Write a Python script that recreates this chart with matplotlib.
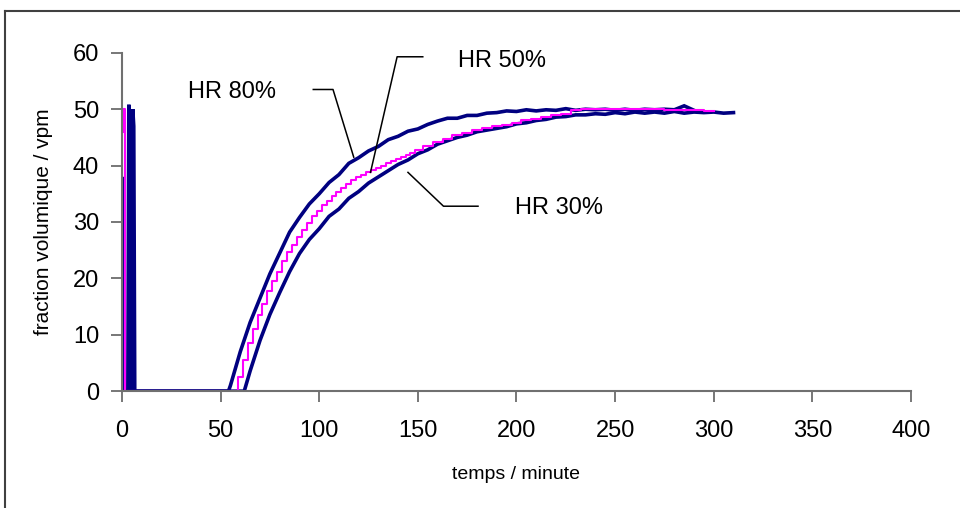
import matplotlib
matplotlib.use("Agg")
import matplotlib.pyplot as plt
from matplotlib.lines import Line2D

plt.rcParams['font.family'] = ['Liberation Sans', 'DejaVu Sans']

# HR 80% (navy, rises first)
t80 = [0, 0.5, 1, 3, 3.5, 4, 4.5, 54,
       55, 60, 65, 70, 75, 80, 85, 90, 95, 100, 105, 110, 115, 120, 125, 130,
       135, 140, 145, 150, 155, 160, 165, 170, 175, 180, 185, 190, 195, 200,
       205, 210, 215, 220, 225, 230, 235, 240, 245, 250, 255, 260, 265, 270,
       275, 280, 285, 290]
y80 = [0, 38, 0, 0, 50.8, 46, 0, 0,
       1.0, 7.0, 12.2, 16.5, 20.8, 24.5, 28.2, 30.8, 33.2, 35.0, 37.0, 38.4, 40.4, 41.4, 42.6, 43.4,
       44.6, 45.2, 46.1, 46.5, 47.3, 47.9, 48.4, 48.4, 48.9, 48.9, 49.3, 49.4, 49.7, 49.6,
       49.9, 49.7, 49.9, 49.8, 50.1, 49.8, 50.0, 49.9, 50.0, 49.8, 50.0, 49.8, 50.0, 49.9,
       50.0, 49.9, 50.6, 49.8]

# HR 50% (magenta)
t50 = [0, 0.3, 1, 1.5, 2, 57.5,
       60, 62.5, 65, 67.5, 70, 72.5, 75, 77.5, 80, 82.5, 85, 87.5, 90, 92.5,
       95, 97.5, 100, 102.5, 105, 107.5, 110, 112.5, 115, 117.5, 120, 122.5,
       125, 127.5, 130, 132.5, 135, 137.5, 140, 142.5, 145, 147.5, 150, 155,
       160, 165, 170, 175, 180, 185, 190, 195, 200, 205, 210, 215, 220, 225,
       230, 235, 240, 250, 260, 270, 280, 290, 300]
y50 = [0, 50, 46, 50, 0, 0,
       2.5, 5.5, 8.5, 11.0, 13.5, 15.5, 17.8, 19.5, 21.2, 23.0, 24.6, 26.0, 27.3, 28.6,
       29.8, 31.0, 32.0, 33.0, 33.8, 34.6, 35.3, 36.0, 36.7, 37.4, 38.0, 38.4,
       38.8, 39.2, 39.6, 40.0, 40.4, 40.8, 41.1, 41.5, 41.9, 42.3, 42.7, 43.4,
       44.2, 44.8, 45.4, 45.8, 46.3, 46.7, 47.0, 47.2, 47.6, 48.0, 48.3, 48.6, 49.0, 49.2,
       49.8, 50.0, 50.0, 50.0, 50.0, 50.0, 49.9, 49.8, 49.7]

# HR 30% (navy, rises last)
t30 = [0, 5, 5.5, 6, 6.5, 62,
       65, 70, 75, 80, 85, 90, 95, 100, 105, 110, 115, 120, 125, 130, 135, 140,
       145, 150, 155, 160, 165, 170, 175, 180, 185, 190, 195, 200, 205, 210,
       215, 220, 225, 230, 235, 240, 245, 250, 255, 260, 265, 270, 275, 280,
       285, 290, 295, 300, 305, 310]
y30 = [0, 0, 50, 47, 0, 0,
       3.6, 9.0, 13.6, 17.5, 21.2, 24.4, 26.9, 28.8, 31.0, 32.3, 34.2, 35.4, 36.9, 38.0, 39.1, 40.2,
       41.0, 42.1, 42.8, 43.8, 44.4, 45.0, 45.4, 46.0, 46.3, 46.6, 46.9, 47.4, 47.6, 48.0,
       48.2, 48.6, 48.7, 49.0, 49.0, 49.2, 49.1, 49.4, 49.2, 49.5, 49.3, 49.5, 49.3, 49.6,
       49.3, 49.5, 49.4, 49.5, 49.3, 49.4]

labels = ['HR 80%', 'HR 50%', 'HR 30%']
label_xy = [(33.5, 53.0), (170.5, 58.6), (199.5, 32.5)]
leader_x = [[97, 107, 117.5], [152.5, 139.5, 126], [180.5, 163, 145]]
leader_y = [[53.5, 53.5, 41.5], [59.3, 59.3, 38.8], [32.8, 32.8, 38.8]]

x_ticks = [0, 50, 100, 150, 200, 250, 300, 350, 400]
y_ticks = [0, 10, 20, 30, 40, 50, 60]

fig = plt.figure(figsize=(9.6, 5.08), dpi=100)
ax = fig.add_axes([0.127, 0.230, 0.822, 0.666])

navy = '#000080'
ax.plot(t80, y80, color=navy, lw=2.6, solid_joinstyle='miter')
ax.plot(t30, y30, color=navy, lw=2.6, solid_joinstyle='miter')
ax.plot(t50, y50, color='#FF00FF', lw=1.5, drawstyle='steps-mid')

for lab, (lx, ly), xs, ys in zip(labels, label_xy, leader_x, leader_y):
    ax.plot(xs, ys, color='black', lw=1.1, clip_on=False)
    ax.text(lx, ly, lab, fontsize=17, va='center', ha='left')

ax.set_xlim(0, 400)
ax.set_ylim(0, 60)
ax.set_xticks(x_ticks)
ax.set_yticks(y_ticks)
ax.tick_params(labelsize=17, direction='out', length=8, width=1.2, color='#606060')
ax.tick_params(axis='x', pad=13)
ax.tick_params(axis='y', pad=8.5)
for s in ['top', 'right']:
    ax.spines[s].set_visible(False)
for s in ['left', 'bottom']:
    ax.spines[s].set_color('#707070')
    ax.spines[s].set_linewidth(1.5)
ax.set_xlabel('temps / minute', fontsize=14, labelpad=17)
ax.set_ylabel('fraction volumique / vpm', fontsize=15, labelpad=14)

# outer chart frame (only top and left edges fall inside the image)
fx = 5 / 960
fy = 1 - 11 / 508
fig.add_artist(Line2D([fx, 1.0], [fy, fy], transform=fig.transFigure, color='#404040', lw=1.5))
fig.add_artist(Line2D([fx, fx], [0.0, fy], transform=fig.transFigure, color='#404040', lw=1.5))

fig.savefig('out.png', dpi=100)
